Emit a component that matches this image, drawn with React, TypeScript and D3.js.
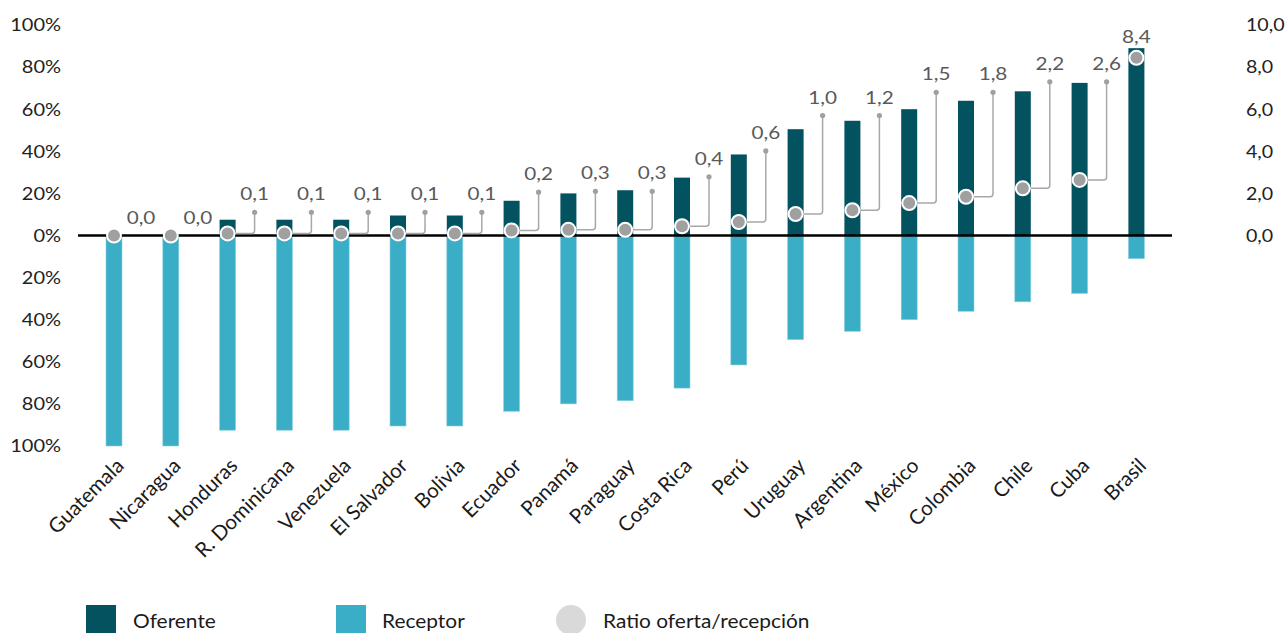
import React from "react";
import * as d3 from "d3";

const countries = ["Guatemala","Nicaragua","Honduras","R. Dominicana","Venezuela","El Salvador","Bolivia","Ecuador","Panamá","Paraguay","Costa Rica","Perú","Uruguay","Argentina","México","Colombia","Chile","Cuba","Brasil"];
const oferente = [0,0,7.5,7.5,7.5,9.5,9.5,16.5,20,21.5,27.5,38.5,50.5,54.5,60,64,68.5,72.5,89];
const receptor = [100,100,92.5,92.5,92.5,90.5,90.5,83.5,80,78.5,72.5,61.5,49.5,45.5,40,36,31.5,27.5,11];
const ratio = [0,0,0.1,0.1,0.1,0.1,0.1,0.24,0.27,0.27,0.44,0.64,1.02,1.2,1.54,1.84,2.24,2.64,8.44];
// label callout heights (left-axis % units); null = label directly above the dot
const callout: (number | null)[] = [0,0,11,11,11,11,11,20.6,21,21,27.9,40.2,57,57,68,68,73,73,null];
const leftTicks = [-100,-80,-60,-40,-20,0,20,40,60,80,100];
const rightTicks = [0,2,4,6,8,10];

const DARK = "#02525f";
const LIGHT = "#3aaec7";
const DOT = "#a0a0a0";
const FONT = "Lato, 'Open Sans', sans-serif";

function T(props: { x: number; y: number; sx?: number; anchor?: string; size?: number; fill?: string; dy?: string; children: any }) {
  const { x, y, sx = 1.11, anchor = "start", size = 18, fill = "#222", dy, children } = props;
  return (
    <text transform={`translate(${x},${y}) scale(${sx},1)`} textAnchor={anchor} fontSize={size} fill={fill} dy={dy}>
      {children}
    </text>
  );
}

export default function App() {
  const W = 1286, H = 633;
  const x = d3.scalePoint<string>().domain(countries).range([85.6, 1164.8]).padding(0.5);
  const yPct = d3.scaleLinear().domain([-100, 100]).range([446, 25]);
  const yRat = d3.scaleLinear().domain([0, 10]).range([yPct(0), 25]);
  const fmt = (v: number) => d3.format(".1f")(v).replace(".", ",");
  const bw = 16;
  const off = 27;
  const r = 7;

  return (
    <svg width={W} height={H} style={{ position: "absolute", left: 0, top: 0, fontFamily: FONT }}>
      {leftTicks.map((t) => (
        <T key={"l" + t} x={61} y={yPct(t)} dy="0.35em" anchor="end">{Math.abs(t) + "%"}</T>
      ))}
      {rightTicks.map((t) => (
        <T key={"r" + t} x={1246} y={yRat(t)} dy="0.35em" sx={1.09}>{fmt(t)}</T>
      ))}
      {countries.map((c, i) => (
        <rect key={"rb" + c} x={(x(c) as number) - bw / 2} y={yPct(0)} width={bw}
          height={yPct(-receptor[i]) - yPct(0)} fill={LIGHT} stroke="#8fd0df" strokeWidth={0.6} />
      ))}
      {countries.map((c, i) => (
        <rect key={"ob" + c} x={(x(c) as number) - bw / 2} y={yPct(oferente[i])} width={bw}
          height={yPct(0) - yPct(oferente[i])} fill={DARK} />
      ))}
      <line x1={78} x2={1172} y1={yPct(0)} y2={yPct(0)} stroke="#000" strokeWidth={2.5} />
      {countries.map((c, i) => {
        const cy = yRat(ratio[i]);
        const cx = x(c) as number;
        const h = callout[i];
        if (h === null || h === 0) return null;
        const lx = cx + off;
        const ty = yPct(h);
        const rr = 3;
        const d = `M${cx + r},${cy} H${lx - rr} Q${lx},${cy} ${lx},${cy - rr} V${ty}`;
        return (
          <g key={"ld" + c}>
            <path d={d} fill="none" stroke="#a8a8a8" strokeWidth={1.5} />
            <circle cx={lx} cy={ty} r={2.6} fill={DOT} />
          </g>
        );
      })}
      {countries.map((c, i) => (
        <circle key={"d" + c} cx={x(c) as number} cy={yRat(ratio[i])} r={r} fill={DOT} stroke="#fff" strokeWidth={2} />
      ))}
      {countries.map((c, i) => {
        const cx = x(c) as number;
        const h = callout[i];
        const lx = h === null ? cx : cx + off;
        const ly = h === null ? yRat(ratio[i]) - 15 : yPct(h) - 12;
        return (
          <T key={"t" + c} x={lx} y={ly} anchor="middle" fill="#595959" sx={1.15}>{fmt(ratio[i])}</T>
        );
      })}
      {countries.map((c) => (
        <text key={"x" + c} transform={`translate(${(x(c) as number) + 6},${462}) rotate(-45)`}
          textAnchor="end" dy="0.35em" fontSize={20.5} fill="#1a1a1a">
          {c}
        </text>
      ))}
      <rect x={86} y={605} width={30} height={30} fill={DARK} />
      <T x={133} y={628} size={19} sx={1.1} fill="#1a1a1a">Oferente</T>
      <rect x={336} y={605} width={30} height={30} fill={LIGHT} />
      <T x={382} y={628} size={19} sx={1.1} fill="#1a1a1a">Receptor</T>
      <circle cx={571} cy={620} r={15} fill="#d9d9d9" />
      <T x={603} y={628} size={19} sx={1.1} fill="#1a1a1a">Ratio oferta/recepción</T>
    </svg>
  );
}
